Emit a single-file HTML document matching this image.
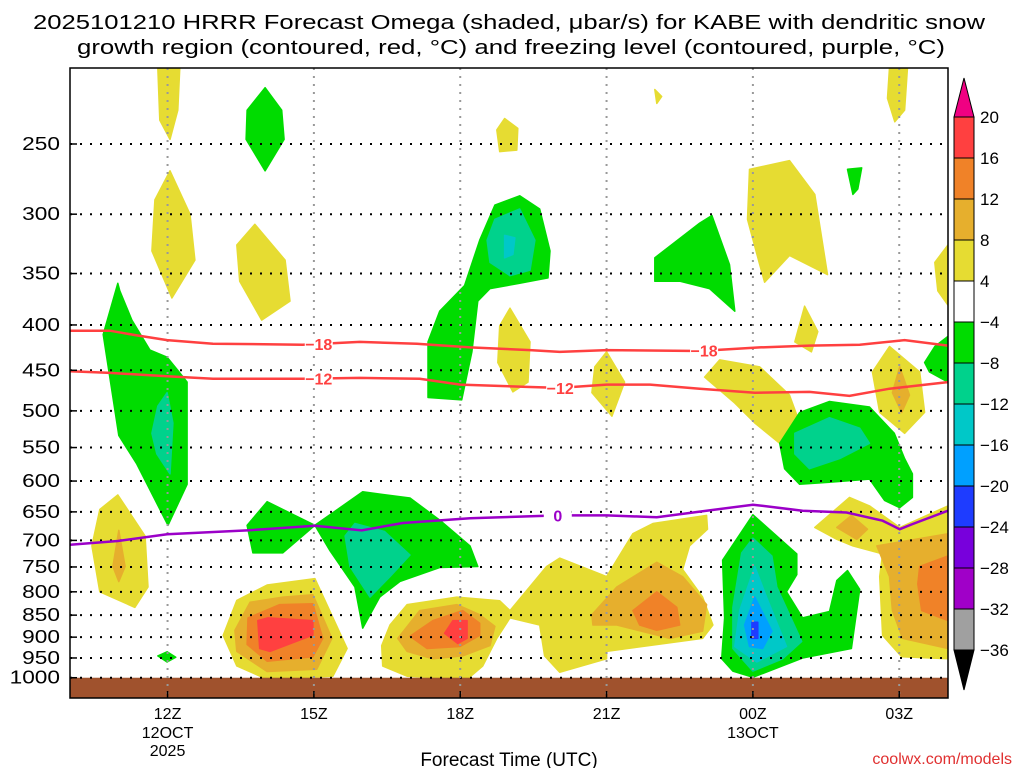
<!DOCTYPE html>
<html><head><meta charset="utf-8"><style>
html,body{margin:0;padding:0;background:#fff;}
svg text{font-family:"Liberation Sans",sans-serif;}
</style></head><body>
<svg id="chart" width="1024" height="768" viewBox="0 0 1024 768" xmlns="http://www.w3.org/2000/svg">
<text x="33" y="29" font-size="20" textLength="952" lengthAdjust="spacingAndGlyphs">2025101210 HRRR Forecast Omega (shaded, μbar/s) for KABE with dendritic snow</text>
<text x="77" y="54" font-size="20" textLength="868" lengthAdjust="spacingAndGlyphs">growth region (contoured, red, °C) and freezing level (contoured, purple, °C)</text>
<g id="fills"></g>
<g id="grid"></g>
<g id="lines"></g>
<g id="axes"></g>
<g id="cbar"></g>
<text x="509" y="766" font-size="19" text-anchor="middle">Forecast Time (UTC)</text>
<text x="1012" y="764" font-size="16" fill="#e03030" text-anchor="end">coolwx.com/models</text>
</svg>
<script>
// ---- data ----
const pressureTicks=[250,300,350,400,450,500,550,600,650,700,750,800,850,900,950,1000];
const timeTicks=[12,15,18,21,24,27];
const timeLabels=["12Z","15Z","18Z","21Z","00Z","03Z"];
const dateLabels={12:["12OCT","2025"],24:["13OCT"]};
const cbarLevels=[20,16,12,8,4,-4,-8,-12,-16,-20,-24,-28,-32,-36];
const cbarColors=["#ff4040","#f08228","#e6af2d","#e6dc32","#ffffff","#00dc00","#00d28c","#00c8c8","#00a0ff","#1e3cff","#7800dc","#a000c8","#a0a0a0"];
const freezingLevel=[[10,708],[10.98,701],[11.99,689],[13.63,682],[15.02,674],[15.98,682],[16.82,669],[18.2,661],[20,656],[21,656],[22.03,659],[24,638],[25.02,648],[25.92,651],[26.66,665],[27.01,680],[27.27,671],[28,648]];
const isoMinus18=[[10,406],[10.82,406],[11.37,411],[11.99,416],[12.93,420],[14.77,421],[15.94,418],[17.11,420],[18.2,424],[19.43,427],[20.04,429],[21,427],[22.91,428],[24.14,424],[25.16,422],[26.19,421],[27.11,416],[28,422]];
const isoMinus12=[[10,451],[10.82,453],[11.99,457],[12.93,460],[14.77,460],[15.94,459],[17.17,460],[18,467],[19.43,470],[20.04,471],[21,467],[21.89,467],[22.91,472],[24.04,477],[25.16,476],[25.98,481],[26.8,472],[28,464]];
const yellowAreas=[
[[11.8,205],[12.25,205],[12.21,229],[12.05,247],[11.84,235]],
[[12.05,268],[12.46,300],[12.56,338],[12.09,373],[11.68,330],[11.74,289]],
[[13.79,308],[14.41,338],[14.51,376],[13.93,395],[13.48,357],[13.42,325]],
[[18.91,234],[19.18,240],[19.16,254],[18.81,255],[18.75,241]],
[[21.99,217],[22.13,221],[22.03,225]],
[[23.93,267],[24.75,261],[25.27,285],[25.53,351],[24.75,334],[24.24,358],[24.14,342],[23.89,304]],
[[26.8,205],[27.17,205],[27.11,229],[26.91,236],[26.76,222]],
[[28,325],[28,380],[27.79,366],[27.73,340]],
[[19.02,383],[19.43,418],[19.39,464],[19.08,476],[18.77,441],[18.81,401]],
[[21,429],[21.37,464],[21.11,507],[20.7,477],[20.76,446]],
[[25.06,381],[25.33,407],[25.2,429],[24.86,418]],
[[23.32,438],[24.14,446],[24.75,480],[24.96,516],[24.55,544],[24.04,516],[23.63,490],[23.01,458]],
[[26.8,423],[27.42,452],[27.52,502],[27.11,530],[26.6,502],[26.45,452]],
[[10.98,622],[11.54,692],[11.6,790],[11.33,833],[10.61,800],[10.45,710],[10.61,646]],
[[15.02,773],[15.68,927],[15.39,996],[14.04,1004],[13.42,970],[13.14,896],[13.42,818],[14.04,786]],
[[16.39,920],[16.56,872],[16.91,827],[17.93,811],[18.81,819],[19.02,840],[19.77,749],[20.04,733],[21,769],[21.54,688],[21.95,670],[23.05,656],[23.07,680],[22.7,710],[22.56,755],[22.97,811],[23.18,872],[22.97,903],[21,934],[21,952],[20.04,986],[19.73,945],[19.63,872],[19.02,856],[18.75,903],[18.46,970],[18.14,1004],[16.91,996],[16.41,970]],
[[25.27,677],[25.98,626],[26.39,640],[27.01,677],[28,640],[28,952],[27.05,947],[26.66,896],[26.6,769],[26.66,725],[26.05,710],[25.72,698]]
];
const goldAreas=[
[[27.01,446],[27.21,480],[27.05,502],[26.86,477]],
[[11,682],[11.13,749],[11,779],[10.88,749]],
[[14.98,806],[15.37,903],[15.06,978],[14.04,984],[13.42,934],[13.38,884],[13.69,822],[14.36,811]],
[[16.72,903],[17.17,840],[17.93,827],[18.4,849],[18.71,875],[18.61,920],[18.05,945],[17.44,952],[16.91,934]],
[[20.7,849],[21.21,790],[22.03,741],[22.56,769],[23.05,827],[22.97,886],[22.3,903],[21.21,872],[20.72,872]],
[[25.72,677],[26.02,656],[26.35,680],[26.13,698]],
[[26.54,710],[28,688],[28,927],[27.07,903],[26.86,840],[26.8,769]]
];
const orangeAreas=[
[[14.98,825],[15.18,903],[14.98,947],[14.04,958],[13.63,917],[13.65,856],[14.3,827]],
[[16.97,898],[17.44,862],[18.05,840],[18.4,868],[18.4,896],[18,922],[17.32,927]],
[[21.54,840],[22.03,800],[22.44,833],[22.5,872],[22.03,884],[21.68,872]],
[[27.42,749],[28,729],[28,862],[27.46,840],[27.38,784]]
];
const redAreas=[
[[13.85,862],[14.06,856],[14.98,862],[14.98,895],[14.1,934],[13.89,927]],
[[17.68,891],[17.85,862],[18.14,862],[18.14,903],[17.95,915]]
];
const greenAreas=[
[[10.98,359],[10.68,410],[11,533],[11.37,574],[12.01,673],[12.4,605],[12.4,464],[12.21,450],[11.99,435],[11.64,427],[11.27,395],[11.02,366]],
[[14.04,633],[15.02,673],[14.36,723],[13.75,723],[13.63,673]],
[[15.02,673],[16,617],[16.97,627],[17.58,664],[18.2,710],[18.36,749],[17.58,751],[16.76,779],[16.35,811],[16,879],[15.84,790],[15.33,719]],
[[14,216],[14.34,229],[14.39,247],[14,268],[13.61,247],[13.63,229]],
[[17.34,483],[17.34,418],[17.58,386],[18.09,361],[18.4,321],[18.71,293],[19.22,286],[19.63,296],[19.84,330],[19.8,354],[19.22,359],[18.61,364],[18.36,376],[18.24,429],[18.03,486]],
[[21.99,336],[22.91,307],[23.16,301],[23.52,342],[23.63,386],[23.11,364],[22.5,357],[21.99,357]],
[[25.94,267],[26.23,266],[26.15,281],[26.05,285]],
[[24.55,544],[24.96,502],[25.57,488],[26.39,495],[26.9,530],[27.11,566],[27.27,589],[27.27,626],[27.01,643],[26.7,631],[26.39,597],[25.57,602],[24.96,605],[24.65,581]],
[[27.73,423],[28,412],[28,464],[27.62,452],[27.52,441]],
[[24,655],[24.9,725],[24.9,765],[24.69,800],[25.02,856],[25.57,842],[25.72,777],[25.94,757],[26.19,795],[26.02,927],[25.02,950],[24,999],[23.59,983],[23.36,952],[23.42,856],[23.38,737]],
[[11.8,945],[11.99,935],[12.17,948],[11.99,960]]
];
const tealAreas=[
[[11.99,477],[12.11,516],[12.05,589],[11.78,559],[11.68,530],[11.8,494]],
[[15.84,670],[16.45,684],[16.97,727],[16.56,769],[16.15,811],[15.74,749],[15.64,692]],
[[18.71,304],[19.22,296],[19.53,321],[19.43,347],[19.02,352],[18.61,340],[18.55,321]],
[[24.86,530],[25.57,509],[26.19,523],[26.39,544],[25.78,566],[25.16,581],[24.86,559]],
[[24,696],[24.39,729],[24.49,790],[25,910],[24.61,952],[24,983],[23.59,927],[23.59,833],[23.77,723]]
];
const cyanAreas=[
[[18.91,317],[19.12,319],[19.08,333],[18.91,336]],
[[24.04,749],[24.28,811],[24.69,922],[24.08,960],[23.63,922],[23.73,840]]
];
const lightBlueAreas=[[[24.04,811],[24.39,886],[24.2,927],[23.93,922],[23.83,872]]];
const blueAreas=[[[23.98,866],[24.1,866],[24.1,903],[23.98,903]]];

// ---- axes ----
const X0=70,X1=948,Y0=68,Y1=698,H0=10,H1=28;
function xs(h){return X0+(h-H0)*(X1-X0)/(H1-H0);}
function ys(p){return 144+385*Math.log(p/250);}
const NS="http://www.w3.org/2000/svg";
function mk(tag,attrs,parent){const e=document.createElementNS(NS,tag);for(const k in attrs)e.setAttribute(k,attrs[k]);parent.appendChild(e);return e;}
const fills=document.getElementById('fills');
mk('rect',{x:X0,y:Y0,width:X1-X0,height:Y1-Y0,fill:'#fff'},fills);
const defs=mk('defs',{},fills);
const cp=mk('clipPath',{id:'plotclip'},defs);
mk('rect',{x:X0,y:Y0,width:X1-X0,height:Y1-Y0},cp);
const fg=mk('g',{'clip-path':'url(#plotclip)'},fills);
function drawAreas(list,color,name){
  list.forEach(function(poly){
    const d='M'+poly.map(function(pt){return xs(pt[0]).toFixed(1)+','+ys(pt[1]).toFixed(1);}).join('L')+'Z';
    const el=mk('path',{d:d,fill:color,stroke:color,'stroke-width':1.5,'stroke-linejoin':'round'},fg);
    
    
  });
}
drawAreas(yellowAreas,'#e6dc32','omega-4-8-area');
drawAreas(goldAreas,'#e6af2d','omega-8-12-area');
drawAreas(orangeAreas,'#f08228','omega-12-16-area');
drawAreas(redAreas,'#ff4040','omega-16-20-area');
drawAreas(greenAreas,'#00dc00','omega-neg4-neg8-area');
drawAreas(tealAreas,'#00d28c','omega-neg8-neg12-area');
drawAreas(cyanAreas,'#00c8c8','omega-neg12-neg16-area');
drawAreas(lightBlueAreas,'#00a0ff','omega-neg16-neg20-area');
drawAreas(blueAreas,'#1e3cff','omega-neg20-neg24-area');
// ground
const gr=mk('rect',{x:X0,y:ys(1000),width:X1-X0,height:Y1-ys(1000),fill:'#a0522d'},fg);



// grid
const grid=document.getElementById('grid');
pressureTicks.forEach(function(p){
  const l=mk('line',{x1:X0,x2:X1,y1:ys(p),y2:ys(p),stroke:'#000','stroke-width':2,'stroke-dasharray':'2 8'},grid);
  
  
});
timeTicks.forEach(function(h){
  const l=mk('line',{x1:xs(h),x2:xs(h),y1:Y0,y2:Y1,stroke:'#999','stroke-width':2,'stroke-dasharray':'2 6'},grid);
  
  
});

// lines
const lines=document.getElementById('lines');
function lineD(arr){return 'M'+arr.map(function(pt){return xs(pt[0]).toFixed(1)+','+ys(pt[1]).toFixed(1);}).join('L');}
function interpP(arr,h){for(let i=0;i<arr.length-1;i++){if(h>=arr[i][0]&&h<=arr[i+1][0]){const t=(h-arr[i][0])/(arr[i+1][0]-arr[i][0]);return arr[i][1]*(1-t)+arr[i+1][1]*t;}}return arr[0][1];}
function drawLine(arr,color,name,labels,txt){
  const p=mk('path',{d:lineD(arr),fill:'none',stroke:color,'stroke-width':2.5,'clip-path':'url(#plotclip)'},lines);
  
  
  labels.forEach(function(h){
    const x=xs(h),y=ys(interpP(arr,h));
    mk('rect',{x:x-14,y:y-8,width:28,height:16,fill:'#fff'},lines);
    const t=mk('text',{x:x,y:y+6,'font-size':16,'font-weight':'bold',fill:color,'text-anchor':'middle'},lines);
    t.textContent=txt;
    
    
  });
}
drawLine(isoMinus18,'#ff4040','isotherm-minus18',[15.1,23.0],'−18');
drawLine(isoMinus12,'#ff4040','isotherm-minus12',[15.1,20.05],'−12');
drawLine(freezingLevel,'#9b00c8','freezing-level',[20.0],'0');

// axes
const axes=document.getElementById('axes');
mk('rect',{x:X0,y:Y0,width:X1-X0,height:Y1-Y0,fill:'none',stroke:'#000','stroke-width':1.5},axes);
pressureTicks.forEach(function(p){
  mk('line',{x1:X0,x2:X0+7,y1:ys(p),y2:ys(p),stroke:'#000','stroke-width':1.5},axes);
  const s=String(p);
  const t=mk('text',{x:60,y:ys(p)+6,'font-size':18,'text-anchor':'end',textLength:s.length*12.6,lengthAdjust:'spacingAndGlyphs'},axes);
  t.textContent=s;
  
  
});
timeTicks.forEach(function(h,i){
  mk('line',{x1:xs(h),x2:xs(h),y1:Y1,y2:Y1-7,stroke:'#000','stroke-width':1.5},axes);
  const t=mk('text',{x:xs(h),y:719,'font-size':16,'text-anchor':'middle'},axes);
  t.textContent=timeLabels[i];
  
  
  (dateLabels[h]||[]).forEach(function(s,j){
    const d=mk('text',{x:xs(h),y:738+j*18,'font-size':16,'text-anchor':'middle'},axes);
    d.textContent=s;
    
    
  });
});

// colorbar
const cb=document.getElementById('cbar');
const CX=954,CW=20,CT=117,CS=41;
function cy(i){return CT+i*CS;}
mk('path',{d:'M'+CX+','+cy(0)+'L'+(CX+CW/2)+',78L'+(CX+CW)+','+cy(0)+'Z',fill:'#f00082',stroke:'#000','stroke-width':1},cb);
cbarColors.forEach(function(c,i){
  const r=mk('rect',{x:CX,y:cy(i),width:CW,height:CS,fill:c,stroke:'#000','stroke-width':1},cb);
  
  
});
mk('path',{d:'M'+CX+','+cy(13)+'L'+(CX+CW/2)+',690L'+(CX+CW)+','+cy(13)+'Z',fill:'#000',stroke:'#000','stroke-width':1},cb);
cbarLevels.forEach(function(v,i){
  const t=mk('text',{x:980,y:cy(i)+6,'font-size':17},cb);
  t.textContent=v<0?'−'+(-v):String(v);
  
  
});
</script>
</body></html>
